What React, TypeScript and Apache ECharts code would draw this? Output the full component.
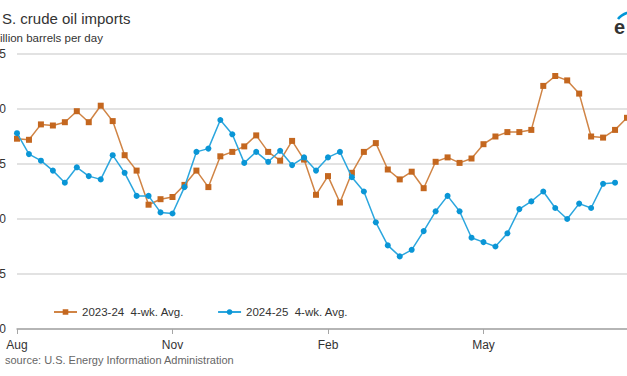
import React, { useEffect, useRef } from "react";
import * as echarts from "echarts";

// Weekly 4-week averages, million barrels per day (week 1 = start of August)
const weeks = Array.from({ length: 52 }, (_, i) => `W${i + 1}`);
const monthLabels = ["Aug", "Nov", "Feb", "May"];
const monthTickIndex = [0, 13, 26, 39];

const seriesNames = ["2023-24\u00a0\u00a04-wk. Avg.", "2024-25\u00a0\u00a04-wk. Avg."];

const imports2023_24 = [
  6.73, 6.72, 6.86, 6.85, 6.88, 6.98, 6.88, 7.03, 6.89, 6.58, 6.44, 6.13, 6.18,
  6.2, 6.31, 6.44, 6.29, 6.57, 6.61, 6.66, 6.76, 6.61, 6.53, 6.71, 6.54, 6.22,
  6.39, 6.15, 6.42, 6.61, 6.69, 6.45, 6.36, 6.43, 6.28, 6.52, 6.56, 6.51, 6.55,
  6.68, 6.75, 6.79, 6.79, 6.81, 7.21, 7.3, 7.26, 7.14, 6.75, 6.74, 6.81, 6.92,
];

const imports2024_25 = [
  6.78, 6.59, 6.53, 6.44, 6.33, 6.47, 6.39, 6.36, 6.58, 6.42, 6.21, 6.21, 6.06,
  6.05, 6.29, 6.61, 6.64, 6.9, 6.77, 6.51, 6.61, 6.52, 6.62, 6.49, 6.56, 6.44,
  6.56, 6.61, 6.38, 6.25, 5.97, 5.76, 5.66, 5.72, 5.89, 6.07, 6.21, 6.07, 5.83,
  5.79, 5.75, 5.87, 6.09, 6.16, 6.25, 6.1, 6.0, 6.14, 6.1, 6.32, 6.33, null,
];

const yMin = 5;
const yMax = 7.5;
const yStep = 0.5;

// Texts as they are visible in the (left-cropped) reference
const titleText = "S. crude oil imports";
const unitText = "illion barrels per day";
const sourceText = "source: U.S. Energy Information Administration";
const logoText = "e";

const FONT = "Arial, 'Liberation Sans', sans-serif";

export default function App() {
  const ref = useRef<HTMLDivElement>(null);

  useEffect(() => {
    const chart = echarts.init(ref.current!, null, { renderer: "svg" });
    const isTick = (i: number) => monthTickIndex.includes(i);
    chart.setOption({
      animation: false,
      backgroundColor: "#ffffff",
      textStyle: { fontFamily: FONT },
      grid: {
        left: 17,
        top: 54,
        width: 610,
        height: 275,
        containLabel: false,
        outerBoundsMode: "none",
      },
      legend: {
        left: 53,
        top: 306,
        padding: 0,
        itemWidth: 23,
        itemHeight: 7,
        itemGap: 33,
        textStyle: { fontFamily: FONT, fontSize: 11.5, color: "#333333" },
        data: seriesNames,
      },
      xAxis: {
        type: "category",
        data: weeks,
        boundaryGap: false,
        axisLine: { show: true, lineStyle: { color: "#a6a6a6", width: 1.5 } },
        axisTick: {
          show: true,
          interval: (i: number) => isTick(i),
          length: 5,
          lineStyle: { color: "#a6a6a6", width: 1 },
        },
        axisLabel: {
          interval: (i: number) => isTick(i),
          formatter: (_v: string, i: number) => {
            const k = monthTickIndex.indexOf(i);
            return k >= 0 ? monthLabels[k] : "";
          },
          margin: 10,
          fontFamily: FONT,
          fontSize: 12,
          color: "#333333",
        },
        splitLine: { show: false },
      },
      yAxis: {
        type: "value",
        min: yMin,
        max: yMax,
        interval: yStep,
        axisLine: { show: false },
        axisTick: { show: false },
        axisLabel: {
          margin: 11,
          fontFamily: FONT,
          fontSize: 12,
          color: "#333333",
          // only the last digit is visible in the cropped reference
          formatter: (v: number) => v.toFixed(1).slice(-1),
        },
        splitLine: { show: true, lineStyle: { color: "#d9d9d9", width: 1.5 } },
      },
      series: [
        {
          name: seriesNames[0],
          type: "line",
          data: imports2023_24,
          symbol: "rect",
          symbolSize: 6,
          showAllSymbol: true,
          clip: false,
          itemStyle: { color: "#c4671f" },
          lineStyle: { color: "#d08445", width: 1.5 },
          z: 2,
        },
        {
          name: seriesNames[1],
          type: "line",
          data: imports2024_25,
          symbol: "circle",
          symbolSize: 6,
          showAllSymbol: true,
          clip: false,
          itemStyle: { color: "#0a96d6" },
          lineStyle: { color: "#2ba6de", width: 1.5 },
          z: 3,
        },
      ],
      graphic: [
        {
          type: "text",
          style: {
            text: titleText,
            x: 2,
            y: 18,
            textVerticalAlign: "middle",
            font: `15px ${FONT}`,
            fill: "#333333",
          },
        },
        {
          type: "text",
          style: {
            text: unitText,
            x: 0,
            y: 38,
            textVerticalAlign: "middle",
            font: `11.5px ${FONT}`,
            fill: "#333333",
          },
        },
        {
          type: "text",
          style: {
            text: sourceText,
            x: 5,
            y: 360,
            textVerticalAlign: "middle",
            font: `11px ${FONT}`,
            fill: "#666666",
          },
        },
        {
          type: "text",
          style: {
            text: logoText,
            x: 614,
            y: 27,
            textVerticalAlign: "middle",
            font: `bold 20px ${FONT}`,
            fill: "#333333",
          },
        },
        {
          type: "bezierCurve",
          shape: { x1: 618, y1: 19, x2: 640, y2: 10, cpx1: 623, cpy1: 12 },
          style: { stroke: "#0096d7", lineWidth: 2.5, fill: "none" },
        },
      ],
    });
    return () => chart.dispose();
  }, []);

  return (
    <div
      style={{
        position: "fixed",
        left: 0,
        top: 0,
        width: 627,
        height: 376,
        overflow: "hidden",
        background: "#ffffff",
      }}
    >
      <div ref={ref} style={{ width: 660, height: 376 }} />
    </div>
  );
}
